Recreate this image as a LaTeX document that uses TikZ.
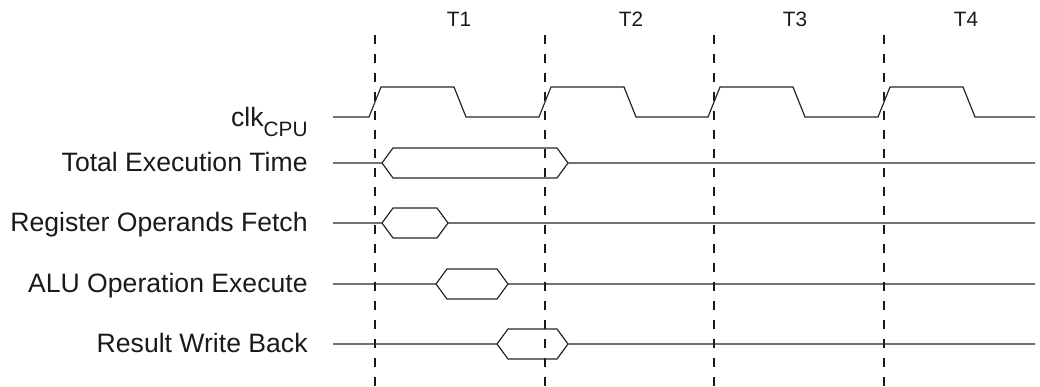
\documentclass[tikz,border=0pt]{standalone}
\usepackage{fontspec}
\setmainfont{Liberation Sans}
\definecolor{ink}{HTML}{1a1a1a}
\definecolor{wave}{HTML}{262626}

\begin{document}
\begin{tikzpicture}[x=0.5pt, y=0.5pt,
  siglabel/.style={anchor=base east, inner sep=0pt, font=\fontsize{13.3}{15}\selectfont, ink},
  cyclabel/.style={anchor=base, inner sep=0pt, font=\fontsize{10.4}{12}\selectfont, ink},
  wave/.style={draw=wave, line width=0.6pt, line join=miter},
  cycgrid/.style={draw=ink, line width=0.6pt, dash pattern=on 4.5pt off 5pt}]

  \useasboundingbox (0,0) rectangle (1040,386);

  % Cycle labels and boundaries
  \foreach \t/\x/\lx in {1/375/459, 2/545/631, 3/714/795, 4/884/966} {
    \node[cyclabel] (T\t) at (\lx,359) {T\t};
    \draw[cycgrid] (\x,351) -- (\x,0);
  }

  % Clock
  \node[siglabel] (clk) at (308,259) {clk\raisebox{-5pt}{\fontsize{10.4}{12}\selectfont CPU}};
  \draw[wave] (333,269) \foreach \x in {375,545,714,884} {
    -- (\x-6,269) -- (\x+6,299) -- (\x+79,299) -- (\x+91,269) } -- (1035,269);

  % Signals: name/label/level/start/end of the valid window
  \foreach \n/\txt/\y/\a/\b in {tet/Total Execution Time/223/382/568,
      rof/Register Operands Fetch/163/382/448,
      alu/ALU Operation Execute/102/436/508,
      rwb/Result Write Back/42/497/568} {
    \node[siglabel] (\n) at (308,\y-9) {\txt};
    \draw[wave] (333,\y) -- (\a,\y) -- (\a+11,\y+15) -- (\b-11,\y+15) -- (\b,\y) -- (1035,\y);
    \draw[wave] (\a,\y) -- (\a+11,\y-15) -- (\b-11,\y-15) -- (\b,\y);
  }
\end{tikzpicture}
\end{document}
